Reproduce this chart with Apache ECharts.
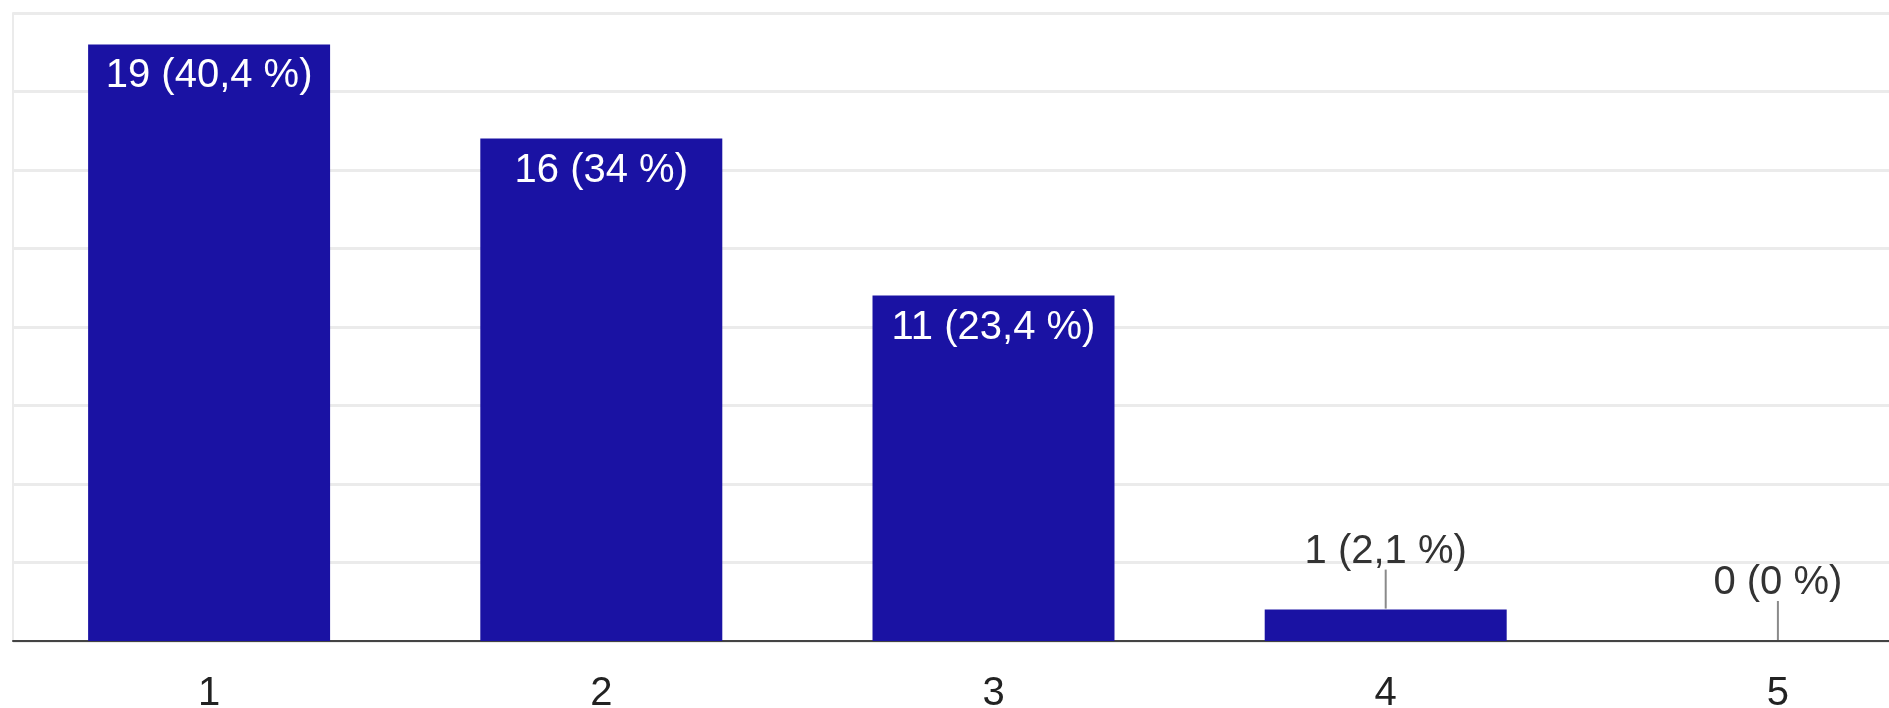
<!DOCTYPE html>
<html>
<head>
<meta charset="utf-8">
<script src="https://cdn.jsdelivr.net/npm/echarts@6/dist/echarts.min.js"></script>
<style>
html,body{margin:0;padding:0;background:#fff;}
#chart{width:1889px;height:708px;}
</style>
</head>
<body>
<div id="chart"></div>
<script>
const categories = ['1', '2', '3', '4', '5'];
const counts = [19, 16, 11, 1, 0];
const percents = ['40,4', '34', '23,4', '2,1', '0'];
const yTicks = [0, 2.5, 5, 7.5, 10, 12.5, 15, 17.5, 20];

const FONT = '"Liberation Sans", Arial, sans-serif';
const insideMin = 5;
const labelText = i => counts[i] + ' (' + percents[i] + ' %)';
const outsideItems = [];
counts.forEach((v, i) => { if (v < insideMin) outsideItems.push([i, v]); });

const chart = echarts.init(document.getElementById('chart'));
chart.setOption({
  animation: false,
  backgroundColor: '#ffffff',
  grid: { left: 13, top: 13, width: 1961, height: 628, containLabel: false, outerBoundsMode: 'none' },
  xAxis: {
    type: 'category',
    data: categories,
    axisLine: { show: true, lineStyle: { color: '#444', width: 2 } },
    axisTick: { show: false },
    axisLabel: { color: '#222', fontSize: 40, fontFamily: FONT, margin: 33 }
  },
  yAxis: {
    type: 'value',
    min: yTicks[0],
    max: yTicks[yTicks.length - 1],
    interval: yTicks[1] - yTicks[0],
    axisLine: { show: true, lineStyle: { color: '#ebebeb', width: 2 } },
    axisTick: { show: false },
    axisLabel: { show: false },
    splitLine: { show: true, lineStyle: { color: '#ebebeb', width: 3 } }
  },
  series: [
    {
      type: 'bar',
      data: counts,
      barWidth: '61.7%',
      itemStyle: { color: '#1a12a3' },
      label: {
        show: true,
        position: 'insideTop',
        distance: 12,
        color: '#ffffff',
        fontSize: 40,
        fontFamily: FONT,
        formatter: p => counts[p.dataIndex] >= insideMin ? labelText(p.dataIndex) : ''
      }
    },
    {
      type: 'custom',
      data: outsideItems,
      encode: { x: 0, y: 1 },
      z: 5,
      renderItem: function (params, api) {
        const idx = api.value(0);
        const p = api.coord([idx, api.value(1)]);
        return {
          type: 'group',
          children: [
            {
              type: 'line',
              shape: { x1: p[0], y1: p[1] - 1, x2: p[0], y2: p[1] - 40 },
              style: { stroke: '#8a8a8a', lineWidth: 2 }
            },
            {
              type: 'text',
              style: {
                text: labelText(idx),
                x: p[0],
                y: p[1] - 58,
                align: 'center',
                verticalAlign: 'middle',
                fill: '#333',
                font: '40px ' + FONT
              }
            }
          ]
        };
      }
    }
  ]
});
</script>
</body>
</html>
